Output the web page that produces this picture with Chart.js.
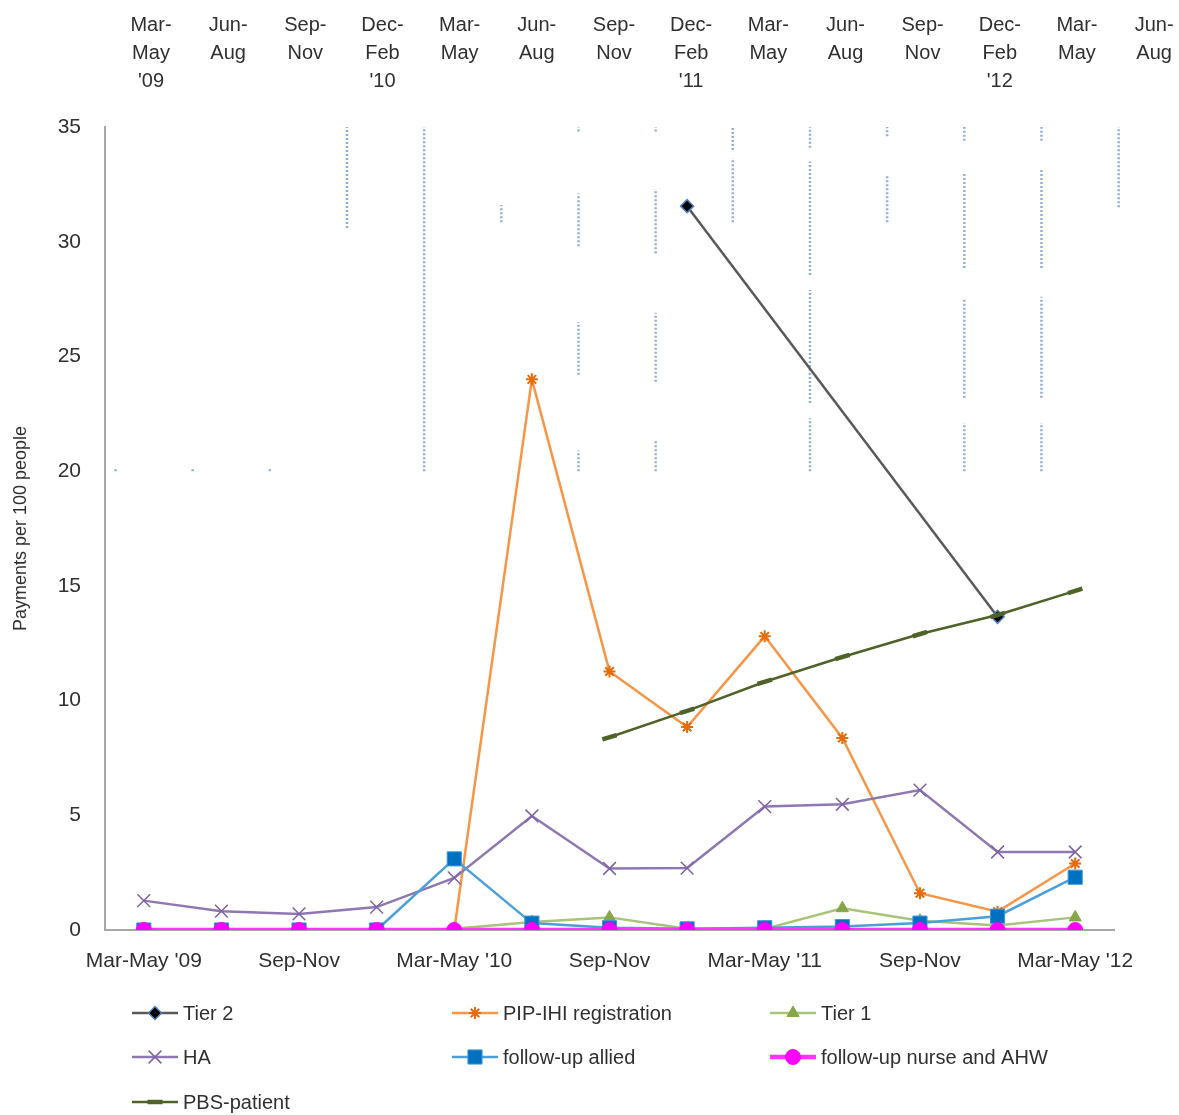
<!DOCTYPE html>
<html>
<head>
<meta charset="utf-8">
<title>Payments per 100 people</title>
<script src="https://cdn.jsdelivr.net/npm/chart.js@4.4.1/dist/chart.umd.min.js"></script>
<style>
  html, body { margin: 0; padding: 0; background: #ffffff; }
  #wrap { width: 1179px; height: 1115px; }
</style>
</head>
<body>
<div id="wrap"><canvas id="chart" width="1179" height="1115"></canvas></div>
<script>
// Quarter categories on the lower axis
const quarters = ["Mar-May '09", "Jun-Aug", "Sep-Nov", "Dec-Feb", "Mar-May '10", "Jun-Aug", "Sep-Nov",
                  "Dec-Feb", "Mar-May '11", "Jun-Aug", "Sep-Nov", "Dec-Feb", "Mar-May '12"];

// Quarter labels on the upper axis (three lines each)
const topQuarterLabels = [
  ["Mar-", "May", "'09"], ["Jun-", "Aug", ""], ["Sep-", "Nov", ""], ["Dec-", "Feb", "'10"],
  ["Mar-", "May", ""], ["Jun-", "Aug", ""], ["Sep-", "Nov", ""], ["Dec-", "Feb", "'11"],
  ["Mar-", "May", ""], ["Jun-", "Aug", ""], ["Sep-", "Nov", ""], ["Dec-", "Feb", "'12"],
  ["Mar-", "May", ""], ["Jun-", "Aug", ""]
];

// Payments per 100 people, by quarter
const tier2          = [null, null, null, null, null, null, null, 31.55, null, null, null, 13.65, null];
const pipIhi         = [null, null, null, null, 0, 24.0, 11.27, 8.85, 12.8, 8.37, 1.6, 0.8, 2.9];
const tier1          = [null, null, null, null, 0.05, 0.35, 0.55, 0.05, 0.05, 0.95, 0.4, 0.2, 0.55];
const ha             = [1.28, 0.82, 0.7, 1.0, 2.27, 4.97, 2.68, 2.7, 5.38, 5.48, 6.1, 3.4, 3.4];
const followUpAllied = [0, 0, 0, 0, 3.1, 0.3, 0.1, 0.05, 0.1, 0.15, 0.3, 0.6, 2.3];
const followUpNurse  = [0, 0, 0, 0, 0, 0, 0, 0, 0, 0, 0, 0, 0];
const pbsPatient     = [null, null, null, null, null, null, 8.4, 9.55, 10.82, 11.9, 12.9, 13.73, 14.78];

const yTicks = [0, 5, 10, 15, 20, 25, 30, 35];

// Dotted vertical strokes on the upper-axis quarter boundaries: [boundary, from, to]
const dottedSegments = [
  [0, 20.0, 20.15], [1, 20.0, 20.15], [2, 20.0, 20.15],
  [3, 30.6, 35],
  [4, 20, 35],
  [5, 30.85, 31.6],
  [6, 34.8, 35], [6, 29.8, 32.1], [6, 24.2, 26.5], [6, 20, 20.9],
  [7, 34.8, 35], [7, 29.5, 32.3], [7, 23.9, 26.9], [7, 20, 21.3],
  [8, 34.0, 35], [8, 30.85, 33.65],
  [9, 34.1, 35], [9, 28.55, 33.5], [9, 22.97, 27.9], [9, 20, 22.3],
  [10, 34.6, 35], [10, 30.85, 32.9],
  [11, 34.4, 35], [11, 28.85, 33.0], [11, 23.2, 27.5], [11, 20, 22.1],
  [12, 34.4, 35], [12, 28.85, 33.2], [12, 23.2, 27.6], [12, 20, 22.1],
  [13, 31.5, 35]
];

const FONT = '"Liberation Sans", Arial, sans-serif';
const TEXT = '#303030';

// Built right to left so the stroke past the last boundary is not culled as off-range
const dottedPoints = [];
dottedSegments.slice().reverse().forEach(([b, lo, hi]) => {
  dottedPoints.push({ x: b, y: lo }, { x: b, y: hi }, { x: b, y: null });
});

const series = [
  { label: 'Tier 2', data: tier2, borderColor: '#595959', borderWidth: 2.5, spanGaps: true,
    pointStyle: 'rectRot', pointRadius: 6.5, pointBackgroundColor: '#000000', pointBorderColor: '#4F81BD', pointBorderWidth: 1.5 },
  { label: 'PIP-IHI registration', data: pipIhi, borderColor: '#F79646', borderWidth: 2.5,
    pointStyle: 'star', pointRadius: 6, pointBackgroundColor: '#E46C0A', pointBorderColor: '#E46C0A', pointBorderWidth: 2 },
  { label: 'Tier 1', data: tier1, borderColor: '#A8C47A', borderWidth: 2.5,
    pointStyle: 'triangle', pointRadius: 7, pointBackgroundColor: '#86A64A', pointBorderColor: '#86A64A', pointBorderWidth: 1 },
  { label: 'HA', data: ha, borderColor: '#8E78B2', borderWidth: 2.5,
    pointStyle: 'crossRot', pointRadius: 9, pointBackgroundColor: '#7E62A6', pointBorderColor: '#7E62A6', pointBorderWidth: 1.5 },
  { label: 'follow-up allied', data: followUpAllied, borderColor: '#4A9FDB', borderWidth: 2.5,
    pointStyle: 'rect', pointRadius: 10, pointBackgroundColor: '#0070C0', pointBorderColor: '#3C98D8', pointBorderWidth: 1 },
  { label: 'follow-up nurse and AHW', data: followUpNurse, borderColor: '#FF33FF', borderWidth: 4.5,
    pointStyle: 'circle', pointRadius: 7.5, pointBackgroundColor: '#FF00FF', pointBorderColor: '#FF00FF', pointBorderWidth: 1 },
  { label: 'PBS-patient', data: pbsPatient, borderColor: '#4F6228', borderWidth: 2.5,
    pointStyle: 'line', pointRadius: 7.5, pointRotation: -17, pointBackgroundColor: '#4F6228', pointBorderColor: '#4F6228', pointBorderWidth: 4.5 }
];

const datasets = series.map((s, i) => Object.assign({
  type: 'line', xAxisID: 'x', yAxisID: 'y', fill: false, tension: 0,
  backgroundColor: s.borderColor, order: series.length - i
}, s));

datasets.push({
  type: 'line', label: '', legendSkip: true, data: dottedPoints, xAxisID: 'xTop', yAxisID: 'y',
  borderColor: '#8FAFDA', borderWidth: 2.5, borderDash: [2, 2], pointRadius: 0, spanGaps: false,
  fill: false, clip: false, order: 50
});

// Three-column legend under the plot: line sample, marker, name
const gridLegend = {
  id: 'gridLegend',
  afterDraw(chart) {
    const ctx = chart.ctx;
    const cols = [132, 452, 770];
    const rows = [1013, 1057, 1102];
    const items = chart.data.datasets.filter(d => !d.legendSkip);
    ctx.save();
    items.forEach((ds, i) => {
      const x0 = cols[i % 3];
      const y = rows[Math.floor(i / 3)];
      ctx.setLineDash([]);
      ctx.strokeStyle = ds.borderColor;
      ctx.lineWidth = ds.borderWidth;
      ctx.beginPath();
      ctx.moveTo(x0, y);
      ctx.lineTo(x0 + 46, y);
      ctx.stroke();
      ctx.fillStyle = ds.pointBackgroundColor;
      ctx.strokeStyle = ds.pointBorderColor;
      ctx.lineWidth = ds.pointBorderWidth;
      Chart.helpers.drawPoint(ctx, {
        pointStyle: ds.pointStyle, radius: ds.pointRadius, rotation: 0, borderWidth: ds.pointBorderWidth
      }, x0 + 23, y);
      ctx.fillStyle = TEXT;
      ctx.font = '20px ' + FONT;
      ctx.textAlign = 'left';
      ctx.textBaseline = 'middle';
      ctx.fillText(ds.label, x0 + 51, y + 1);
    });
    ctx.restore();
  }
};

// Keep tick labels from widening the side margins
const noSidePadding = s => { s.paddingLeft = 0; s.paddingRight = 0; };

new Chart(document.getElementById('chart'), {
  type: 'line',
  data: { labels: quarters, datasets },
  options: {
    responsive: false,
    animation: false,
    layout: { padding: { top: 0, right: 65, bottom: 125, left: 0 } },
    plugins: { legend: { display: false }, tooltip: { enabled: false } },
    scales: {
      x: {
        type: 'category',
        position: 'bottom',
        offset: true,
        grid: { display: false, drawTicks: false },
        border: { display: true, color: '#A6A6A6', width: 2 },
        ticks: {
          autoSkip: false, maxRotation: 0, padding: 19, color: TEXT,
          font: { family: FONT, size: 21 },
          callback: function (value, index) { return index % 2 === 0 ? this.getLabelForValue(value) : ''; }
        },
        afterFit: s => { s.height = 60; noSidePadding(s); }
      },
      xTop: {
        type: 'linear',
        position: 'top',
        bounds: 'data',
        min: -0.136,
        max: 12.94,
        grid: { display: false, drawTicks: false },
        border: { display: false },
        afterBuildTicks: s => { s.ticks = topQuarterLabels.map((_, i) => ({ value: i + 0.46 })); },
        ticks: {
          autoSkip: false, maxRotation: 0, padding: 32, color: TEXT,
          font: { family: FONT, size: 20, lineHeight: 1.4 },
          callback: (value, index) => topQuarterLabels[index]
        },
        afterFit: s => { s.height = 127; noSidePadding(s); }
      },
      y: {
        type: 'linear',
        position: 'left',
        min: 0,
        max: 35,
        grid: { display: false, drawTicks: false },
        border: { display: true, color: '#A6A6A6', width: 2 },
        afterBuildTicks: s => { s.ticks = yTicks.map(v => ({ value: v })); },
        ticks: { padding: 24, color: TEXT, font: { family: FONT, size: 21 } },
        title: {
          display: true, text: 'Payments per 100 people', color: TEXT,
          font: { family: FONT, size: 18 }, padding: { top: 10, bottom: 0 }
        },
        afterFit: s => { s.width = 105; s.paddingTop = 0; s.paddingBottom = 0; }
      }
    }
  },
  plugins: [gridLegend]
});
</script>
</body>
</html>
